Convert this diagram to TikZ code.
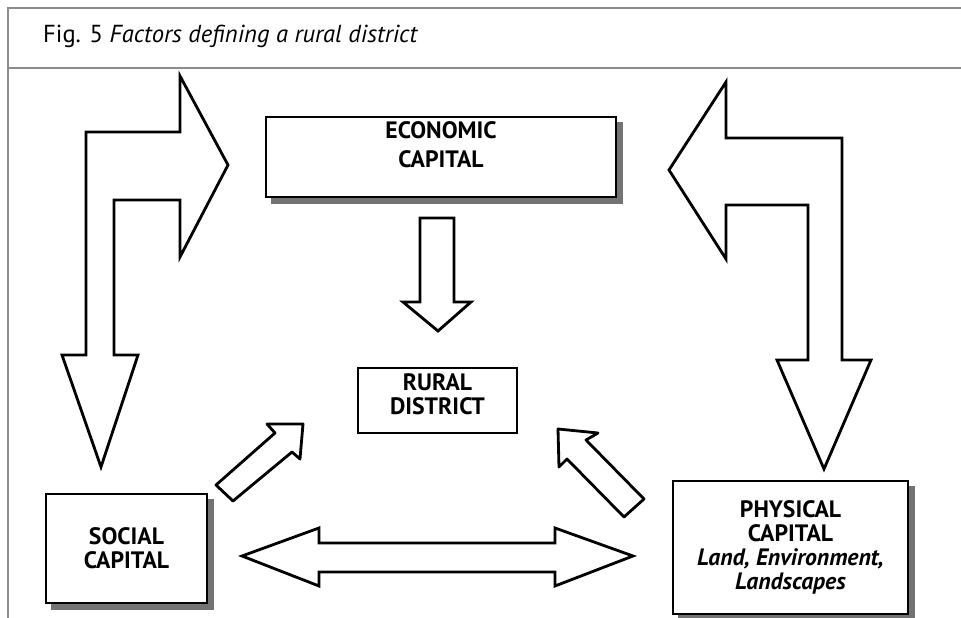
\documentclass[tikz,border=0pt]{standalone}
\usepackage{fontspec}
\setmainfont{PT Sans}
\usetikzlibrary{backgrounds}

\begin{document}
\begin{tikzpicture}[x=0.02cm,y=-0.02cm,line join=miter,
	capbox/.style={draw,line width=1.4pt,fill=white,align=center,inner sep=0pt,
		font=\bfseries\fontsize{13.5}{13.5}\selectfont},
	boxshadow/.style={fill=black!55},
	blockarrow/.style={draw,line width=1.6pt,fill=white},
	frameline/.style={draw=black!45,line width=0.7pt}]
	\useasboundingbox (0,0) rectangle (961,618);
	% frame and heading
	\draw[frameline] (961,8) -- (8,8) -- (8,618);
	\draw[frameline] (8,68) -- (961,68);
	\node[anchor=base west,font=\fontsize{14}{16}\selectfont] (title) at (37,43) {Fig. 5 \textit{Factors defining a rural district}};
	% the four boxes
	\node[capbox,minimum width=7cm,minimum height=1.6cm,text depth=0.5cm,
		font=\bfseries\fontsize{13.5}{17}\selectfont] (eco) at (441,157) {ECONOMIC\\CAPITAL};
	\node[capbox,minimum width=3.18cm,minimum height=1.3cm,text depth=0.26cm] (rural) at (437.5,400.5) {RURAL\\DISTRICT};
	\node[capbox,minimum width=3.22cm,minimum height=2.18cm] (social) at (126.5,548.5) {SOCIAL\\CAPITAL};
	\node[capbox,minimum width=4.7cm,minimum height=2.66cm,
		font=\bfseries\fontsize{13.5}{13.8}\selectfont] (phys) at (790.5,547.5)
		{PHYSICAL\\CAPITAL\\\textit{Land, Environment,}\\\textit{Landscapes}};
	% shadows behind the boxes
	\begin{scope}[on background layer]
		\foreach \b in {eco,social,phys}
			\fill[boxshadow] ([shift={(6,6)}]\b.north west) rectangle ([shift={(6,6)}]\b.south east);
	\end{scope}
	% block arrows
	\draw[blockarrow] (180,132) -- (180,76) -- (228,165) -- (180,257) -- (180,200) -- (114,200) -- (114,355)
		-- (138,355) -- (101,467) -- (62,355) -- (86,355) -- (86,132) -- cycle;
	\draw[blockarrow] (726,138) -- (726,82) -- (669,170) -- (726,259) -- (726,205) -- (808,205) -- (808,360)
		-- (777,360) -- (824,469) -- (871,360) -- (842,360) -- (842,138) -- cycle;
	\draw[blockarrow] (420,218) -- (454,218) -- (454,302) -- (471,302) -- (438,331) -- (403,302) -- (420,302) -- cycle;
	\draw[blockarrow] (242,556) -- (319,528) -- (319,543) -- (555,543) -- (555,528) -- (633,556)
		-- (555,586) -- (555,572) -- (319,572) -- (319,586) -- cycle;
	\draw[blockarrow,line join=round] (216,485) -- (275,433) -- (267,424) -- (303,424) -- (300,459) -- (292,452) -- (233,501) -- cycle;
	\draw[blockarrow,line join=round] (558,429) -- (598,433) -- (586,440) -- (644,499) -- (624,517) -- (567,459) -- (559,467) -- cycle;
\end{tikzpicture}
\end{document}
